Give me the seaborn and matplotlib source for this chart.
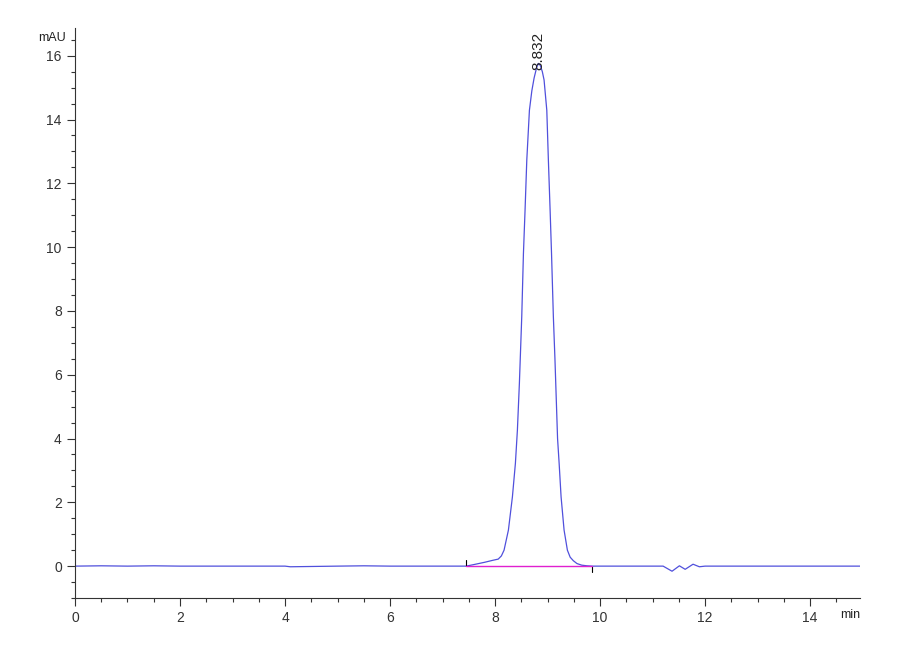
import matplotlib
matplotlib.use("Agg")
import matplotlib.pyplot as plt
import seaborn as sns
import pandas as pd
from matplotlib.ticker import MultipleLocator

# Chromatogram trace (time in min, signal in mAU)
time = [0.0, 0.5, 1.0, 1.5, 2.0, 3.0, 4.0, 4.1, 5.0, 5.5, 6.0, 7.0, 7.45,
        7.6, 7.8, 7.95, 8.06, 8.12, 8.171, 8.254, 8.33, 8.387, 8.425, 8.463,
        8.508, 8.54, 8.571, 8.604, 8.654, 8.70, 8.743, 8.79, 8.825, 8.86,
        8.90, 8.933, 8.985, 9.015, 9.048, 9.075, 9.11, 9.14, 9.162, 9.19,
        9.22, 9.257, 9.314, 9.377, 9.43, 9.49, 9.56, 9.65, 9.75, 9.85, 10.0,
        11.0, 11.2, 11.37, 11.51, 11.62, 11.77, 11.89, 12.0, 13.0, 14.0, 14.95]
signal = [0.0, 0.01, 0.0, 0.01, 0.0, 0.0, 0.0, -0.02, 0.0, 0.01, 0.0, 0.0, 0.0,
          0.05, 0.12, 0.18, 0.22, 0.32, 0.50, 1.13, 2.17, 3.22, 4.26, 5.73,
          7.82, 9.80, 11.16, 12.73, 14.29, 14.90, 15.30, 15.62, 15.76, 15.70,
          15.50, 15.24, 14.29, 12.73, 11.16, 9.80, 7.82, 6.50, 5.40, 4.00,
          3.22, 2.17, 1.13, 0.50, 0.28, 0.17, 0.08, 0.03, 0.01, 0.0, 0.0,
          0.0, 0.0, -0.16, 0.01, -0.10, 0.06, -0.02, 0.0, 0.0, 0.0, 0.0]

# Integration baseline and event marks
baseline_t = [7.45, 9.85]
baseline_y = [0.0, 0.0]
peak_rt = 8.832
peak_label = "8.832"

df = pd.DataFrame({"time": time, "signal": signal})

sns.set_style("ticks")
plt.rcParams["font.family"] = ["Liberation Sans", "DejaVu Sans"]

fig = plt.figure(figsize=(9, 6.6), dpi=100)
ax = fig.add_axes([0.0833, 0.0939, 0.8723, 0.8637])

sns.lineplot(data=df, x="time", y="signal", ax=ax, color="#5050dc",
             linewidth=0.9, sort=False, estimator=None)
ax.plot(baseline_t, baseline_y, color="#e020d0", linewidth=1.0, zorder=3)
# event marks
ax.plot([baseline_t[0], baseline_t[0]], [0.0, 0.18], color="black", linewidth=0.8)
ax.plot([baseline_t[1], baseline_t[1]], [0.0, -0.18], color="black", linewidth=0.8)

ax.text(peak_rt, 15.55, peak_label, rotation=90, ha="center", va="bottom",
        fontsize=11, color="#222222")

ax.set_xlim(0, 14.95)
ax.set_ylim(-1.0, 16.87)
ax.xaxis.set_major_locator(MultipleLocator(2))
ax.xaxis.set_minor_locator(MultipleLocator(0.5))
ax.yaxis.set_major_locator(MultipleLocator(2))
ax.yaxis.set_minor_locator(MultipleLocator(0.5))
ax.tick_params(which="major", length=6, width=0.8, labelsize=10, colors="#333333")
ax.tick_params(which="minor", length=3, width=0.8, colors="#333333")
ax.set_xlabel("")
ax.set_ylabel("")
for s in ["top", "right"]:
    ax.spines[s].set_visible(False)
for s in ["left", "bottom"]:
    ax.spines[s].set_color("#333333")
    ax.spines[s].set_linewidth(0.8)

ax.text(-0.012, 0.982, "mAU", transform=ax.transAxes, ha="right", va="center",
        fontsize=9, color="#222222")
ax.text(1.0, -0.03, "min", transform=ax.transAxes, ha="right", va="center",
        fontsize=9, color="#222222")

fig.savefig("out.png", dpi=100)
